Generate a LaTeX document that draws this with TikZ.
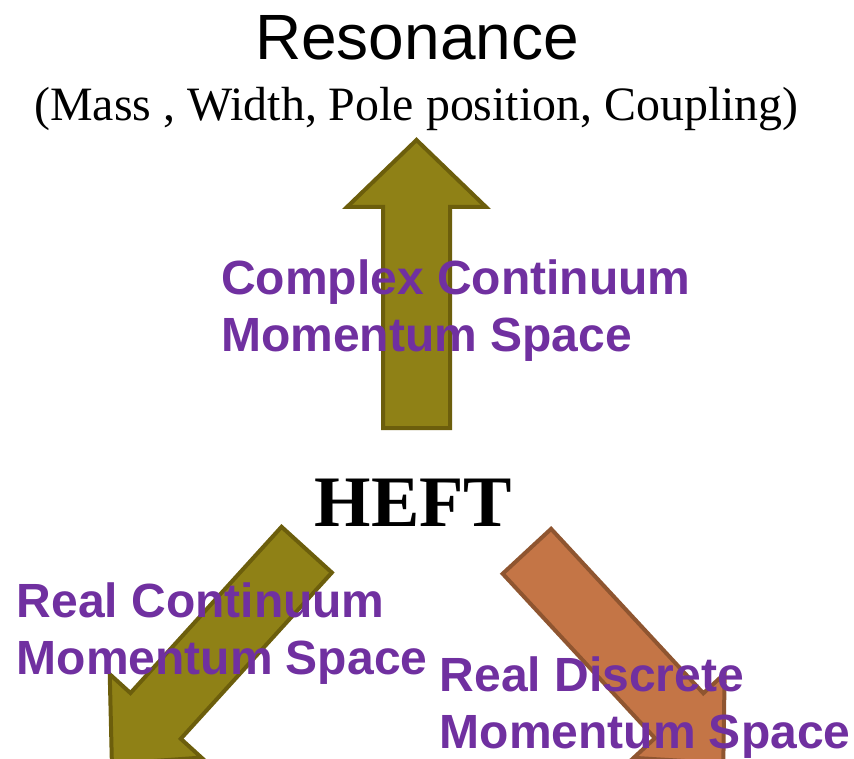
\documentclass[tikz,border=0pt]{standalone}
\usepackage{fontspec}
\setmainfont{Liberation Serif}
\setsansfont{Liberation Sans}
\usetikzlibrary{calc}
\definecolor{olivefill}{RGB}{143,129,22}
\definecolor{oliveline}{RGB}{108,94,12}
\definecolor{orangefill}{RGB}{196,117,70}
\definecolor{orangeline}{RGB}{143,85,48}
\definecolor{labelpurple}{RGB}{112,48,160}
% #1 style, #2 base, #3 tip, #4 half shaft width, #5 half head width, #6 head length
\newcommand{\blockarrow}[6]{%
  \coordinate (hb) at ($(#3)!#6!(#2)$);
  \path[#1] ($(#2)!#4!90:(#3)$) -- ($(hb)!#4!90:(#3)$) -- ($(hb)!#5!90:(#3)$)
    -- (#3) -- ($(hb)!#5!-90:(#3)$) -- ($(hb)!#4!-90:(#3)$) -- ($(#2)!#4!-90:(#3)$) -- cycle;
}
\begin{document}
\begin{tikzpicture}[x=1pt,y=-1pt,
  olivearrow/.style={fill=olivefill,draw=oliveline,line width=4pt,line join=miter},
  orangearrow/.style={fill=orangefill,draw=orangeline,line width=4pt,line join=miter},
  lbl/.style={font=\sffamily\bfseries\fontsize{48}{57}\selectfont,text=labelpurple,
    align=left,anchor=base west,inner sep=0pt}]
\useasboundingbox (0,0) rectangle (854,759);
\clip (0,0) rectangle (854,759);
\fill[white] (0,0) rectangle (854,759);
% arrow end points
\coordinate (upB) at (416.5,428);
\coordinate (upT) at (416.5,140);
\coordinate (lB) at (306.7,549.7);
\coordinate (lT) at (111.9,764);
\coordinate (rB) at (526.9,551.3);
\coordinate (rT) at (723.3,763.4);
\blockarrow{olivearrow}{upB}{upT}{33.5pt}{69.5pt}{67pt}
\blockarrow{olivearrow}{lB}{lT}{34pt}{62pt}{65pt}
\blockarrow{orangearrow}{rB}{rT}{33pt}{62pt}{65pt}
% texts
\node[font=\sffamily\fontsize{64}{70}\selectfont,anchor=base west,inner sep=0pt] (res) at (255,60) {Resonance};
\node[font=\fontsize{47.9}{55}\selectfont,anchor=base west,inner sep=0pt] (props) at (34,120.7) {(Mass , Width, Pole position, Coupling)};
\node[font=\bfseries\fontsize{72.5}{78}\selectfont,anchor=base west,inner sep=0pt] (heft) at (314.6,526.7) {HEFT};
\node[lbl] (complex) at (221,352) {Complex Continuum\\Momentum Space};
\node[lbl] (realcont) at (16.5,674) {Real Continuum\\Momentum Space};
\node[lbl] (realdisc) at (439.5,748) {Real Discrete\\Momentum Space};
\end{tikzpicture}
\end{document}
